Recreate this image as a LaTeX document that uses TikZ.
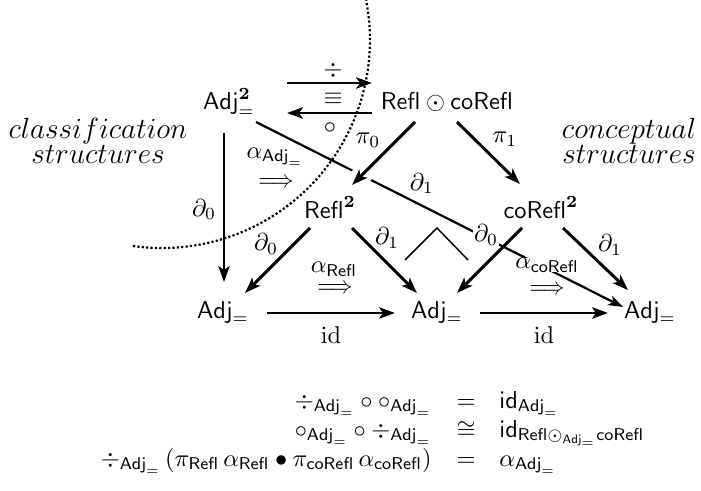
\documentclass[tikz,border=0pt]{standalone}
\usepackage{amsmath,amssymb,graphicx}
\usetikzlibrary{arrows.meta,calc}
\newcommand{\sAdj}{\mathsf{Adj}_{=}}
\newcommand{\dblarr}{\scalebox{0.9}[1]{$\Longrightarrow$}}
\tikzset{
  obj/.style={anchor=base, inner sep=0pt},
  lbl/.style={inner sep=0.5pt},
  cell/.style={inner sep=0pt},
  arr/.style={line width=1.2pt, -{Stealth[length=6.5pt,width=4.6pt,inset=1.6pt]}},
  thinarr/.style={line width=0.9pt, -{Stealth[length=6pt,width=4.2pt,inset=1.5pt]}},
  wedge/.style={line width=0.6pt},
  dots/.style={line width=0.9pt, dash pattern=on 0.9pt off 0.9pt},
  ital/.style={anchor=base, inner sep=0pt, font=\fontsize{11.5}{12}\selectfont},
  eqn/.style={inner sep=0pt}
}
\begin{document}
\begin{tikzpicture}[x=0.41pt,y=-0.41pt]
\useasboundingbox (0,0) rectangle (701,491);

% objects
\node[obj] (A2) at (229,110) {$\mathsf{Adj}^{\mathbf{2}}_{=}$};
\node[obj] (RC) at (447,110) {$\mathsf{Refl}\odot\mathsf{coRefl}$};
\node[obj] (R2) at (330,218) {$\mathsf{Refl}^{\mathbf{2}}$};
\node[obj] (C2) at (541,218) {$\mathsf{coRefl}^{\mathbf{2}}$};
\node[obj] (B1) at (223,318) {$\sAdj$};
\node[obj] (B2) at (437,318) {$\sAdj$};
\node[obj] (B3) at (650,318) {$\sAdj$};

% side texts
\node[ital] (cl1) at (98,138) {$classification$};
\node[ital] (cl2) at (98,163) {$structures$};
\node[ital] (co1) at (629,138) {$conceptual$};
\node[ital] (co2) at (629,163) {$structures$};

% long diagonal (drawn first, broken by labels and crossing arrow)
\draw[thinarr] ([shift={(27,12)}]A2.base) -- ([shift={(-27,-11)}]B3.base)
  node[lbl, pos=0.452, shift={(0,-22)}] (d1a) {$\partial_1$};

% top pair of arrows
\draw[arr] ([shift={(58,-27)}]A2.base) -- ([shift={(-75,-27)}]RC.base)
  node[lbl, midway, shift={(3.5,-13)}] (div) {$\div$};
\draw[arr] ([shift={(-75,3)}]RC.base) -- ([shift={(58,3)}]A2.base)
  node[lbl, midway, shift={(0.5,15)}] (circ) {$\circ$};
\node[lbl] (eqv) at (333,99) {$\equiv$};

% projections
\path ([shift={(-32,12)}]RC.base) coordinate (p0s)
      ([shift={(22,-33)}]R2.base) coordinate (p0e);
\draw[white, line width=8pt] ($(p0s)!0.72!(p0e)$) -- ($(p0s)!0.93!(p0e)$);
\draw[arr] (p0s) -- (p0e)
  node[lbl, midway, shift={(-15.5,-13.5)}] (pi0) {$\pi_0$};
\draw[arr] ([shift={(10,12)}]RC.base) -- ([shift={(-21,-34)}]C2.base)
  node[lbl, midway, shift={(16.5,-14)}] (pi1) {$\pi_1$};

% vertical
\draw[arr] ([shift={(-5,23)}]A2.base) -- ([shift={(1,-36)}]B1.base)
  node[lbl, midway, shift={(-20,2)}] (d0a) {$\partial_0$};

% Refl^2 legs
\draw[arr] ([shift={(-20,10)}]R2.base) -- ([shift={(22,-25)}]B1.base)
  node[lbl, midway, shift={(-11.5,-16.5)}] (d0b) {$\partial_0$};
\draw[arr] ([shift={(22,10)}]R2.base) -- ([shift={(-20,-25)}]B2.base)
  node[lbl, midway, shift={(2.5,-22.5)}] (d1b) {$\partial_1$};

% coRefl^2 legs
\draw[arr] ([shift={(-19,10)}]C2.base) -- ([shift={(20,-25)}]B2.base)
  node[lbl, fill=white, midway, shift={(-3.5,-25.5)}] (d0c) {$\partial_0$};
\draw[arr] ([shift={(22,10)}]C2.base) -- ([shift={(-22,-28)}]B3.base)
  node[lbl, midway, shift={(14.5,-14)}] (d1c) {$\partial_1$};

% identities
\draw[arr] ([shift={(44,-5)}]B1.base) -- ([shift={(-42,-5)}]B2.base)
  node[lbl, midway, shift={(0,22)}] (id1) {$\mathrm{id}$};
\draw[arr] ([shift={(43,-5)}]B2.base) -- ([shift={(-42,-5)}]B3.base)
  node[lbl, midway, shift={(0,22)}] (id2) {$\mathrm{id}$};

% 2-cells
\node[cell] (t1) at (276,183) {\dblarr};
\node[cell] (a1) at (275,157) {$\alpha_{\sAdj}$};
\node[cell] (t2) at (335,289) {\dblarr};
\node[cell] (a2) at (334,269) {$\alpha_{\mathsf{Refl}}$};
\node[cell] (t3) at (547,290) {\dblarr};
\node[cell, fill=white] (a3) at (547,265) {$\alpha_{\mathsf{coRefl}}$};

% pullback corner
\draw[wedge] (405,260) -- (437,228) -- (468,260);

% dotted boundary
\draw[dots] (133,246) arc[start angle=98, end angle=-11, radius=208];

% equations
\node[eqn, anchor=base east] (l1) at (432,408) {$\div_{\sAdj}\circ\circ_{\sAdj}$};
\node[eqn, anchor=base] (r1) at (466,408) {$=$};
\node[eqn, anchor=base west] (m1) at (499,408) {$\mathsf{id}_{\sAdj}$};
\node[eqn, anchor=base east] (l2) at (432,437) {$\circ_{\sAdj}\circ\div_{\sAdj}$};
\node[eqn, anchor=base] (r2) at (466,437) {$\cong$};
\node[eqn, anchor=base west] (m2) at (499,437) {$\mathsf{id}_{\mathsf{Refl}\odot_{\sAdj}\mathsf{coRefl}}$};
\node[eqn, anchor=base east] (l3) at (432,466) {$\div_{\sAdj}\,(\pi_{\mathsf{Refl}}\,\alpha_{\mathsf{Refl}}\bullet\pi_{\mathsf{coRefl}}\,\alpha_{\mathsf{coRefl}})$};
\node[eqn, anchor=base] (r3) at (466,466) {$=$};
\node[eqn, anchor=base west] (m3) at (499,466) {$\alpha_{\sAdj}$};
\end{tikzpicture}
\end{document}
